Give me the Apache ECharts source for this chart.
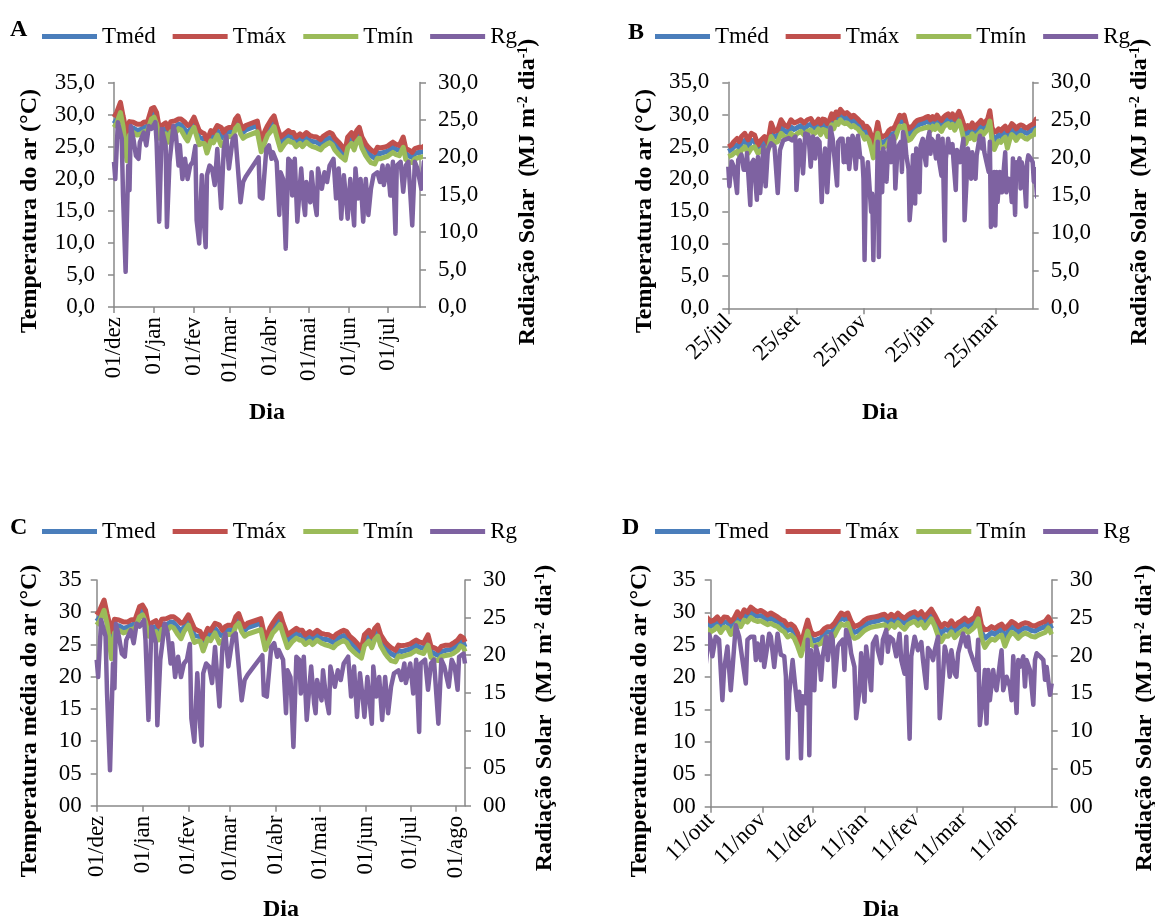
<!DOCTYPE html>
<html>
<head>
<meta charset="utf-8">
<script src="https://cdn.jsdelivr.net/npm/echarts@6/dist/echarts.min.js"></script>
<style>
  html, body { margin: 0; padding: 0; background: #ffffff; }
  #chart { width: 1155px; height: 920px; }
</style>
</head>
<body>
<div id="chart"></div>
<script>
// ---------- Período 1: dia 0 = 01/dez ----------
const p1TempDays = [0,2,5,7,10,12,15,18,21,23,26,29,31,33,35,37,40,42,44,47,50,52,55,57,59,62,63,66,68,70,72,75,77,80,83,85,87,89,92,94,96,98,100,102,111,114,117,119,122,124,126,129,132,135,137,139,141,144,146,149,152,154,157,160,162,165,167,169,171,174,176,179,181,184,186,188,190,192,195,197,199,202,204,206,209,212,214,216,218,221,224,226,229,231,233,236,239,241,244,246,248,249];
const p1Tmax = [29.6,30.3,31.9,29.8,27.0,28.9,28.8,28.5,28.5,28.8,28.9,30.9,31.1,30.3,28.0,28.3,28.7,27.8,28.9,29.0,29.3,29.3,28.8,28.3,28.5,29.6,29.8,27.5,27.2,27.0,25.9,27.5,27.2,28.3,28.0,27.2,27.8,28.0,28.0,29.3,29.8,28.5,27.8,28.3,29.0,25.9,27.5,28.3,29.3,29.8,28.3,26.5,27.0,27.5,27.2,27.2,26.5,27.0,26.6,27.2,26.7,26.6,26.5,26.1,26.6,27.0,27.2,27.0,26.3,25.7,25.2,24.4,26.5,27.2,26.2,27.5,28.0,26.5,25.4,24.9,24.5,24.1,24.9,24.8,24.9,25.1,25.4,25.7,25.4,25.2,26.5,24.7,24.4,24.1,24.7,24.9,24.9,25.2,25.7,26.3,26.0,25.4];
const p1Tmed = [28.6,29.2,31.0,29.0,25.0,27.8,27.9,27.5,27.7,28.0,28.2,30.1,30.4,29.3,27.1,27.5,27.8,26.7,28.1,28.0,28.5,28.4,27.6,27.0,27.7,28.8,29.0,26.4,26.3,26.2,25.0,26.7,26.4,27.5,26.6,26.3,27.0,27.3,27.3,28.5,29.1,27.8,27.2,27.6,28.3,25.0,26.6,27.5,28.4,28.9,27.5,25.5,26.2,26.8,26.5,26.4,25.8,26.3,25.8,26.5,25.9,25.8,25.7,25.3,25.8,26.2,26.4,26.1,25.5,24.8,24.3,23.7,25.6,26.4,25.4,26.7,27.2,25.7,24.5,24.0,23.6,23.2,24.1,23.9,24.1,24.3,24.6,24.9,24.6,24.4,25.7,23.9,23.5,23.3,23.9,24.1,24.2,24.4,24.9,25.5,25.2,24.6];
const p1Tmin = [28.0,28.6,30.3,28.2,22.8,26.8,27.2,26.8,27.0,27.3,27.5,29.3,29.6,28.5,26.3,26.8,27.0,25.7,27.3,27.0,27.8,27.6,26.5,25.9,27.0,28.0,28.3,25.3,25.5,25.5,24.0,25.9,25.6,26.8,25.2,25.5,26.3,26.6,26.5,27.8,28.3,27.0,26.3,26.6,27.3,24.2,25.8,26.8,27.5,28.1,26.6,24.5,25.4,26.0,25.7,25.6,25.0,25.5,25.0,25.7,25.2,25.0,24.8,24.5,25.0,25.4,25.6,25.3,24.5,23.8,23.4,22.9,24.8,25.5,24.5,25.8,26.3,24.8,23.6,23.0,22.5,22.3,23.2,23.1,23.3,23.5,23.8,24.1,23.8,23.6,24.9,23.0,22.6,22.5,23.1,23.3,23.4,23.6,24.1,24.8,24.5,23.9];
const p1RgDays = [0,1,3,6,7,9,11,12,13,15,17,19,20,23,25,27,29,32,33,35,37,40,41,43,46,48,50,51,53,55,57,59,61,63,64,66,68,70,71,72,74,76,78,80,83,85,87,89,92,94,96,98,100,102,112,113,115,118,120,122,123,126,128,129,131,133,135,137,138,140,142,144,145,147,148,149,152,153,155,157,158,161,163,165,167,170,172,174,176,178,180,181,183,186,187,189,191,193,195,197,199,201,204,206,208,209,212,214,216,218,219,222,224,226,228,231,233,235,238,240,242,244,245,248,249];
const p1Rg = [19.4,17.1,24.7,22.5,14.9,4.7,18.9,15.6,24.2,22.5,20.2,19.8,22.0,23.3,21.6,24.2,23.8,24.7,22.0,11.4,23.8,21.6,10.7,19.4,24.2,22.9,18.9,21.6,17.1,19.8,17.1,18.9,19.4,21.5,11.6,8.5,17.6,10.5,8.0,17.6,18.9,18.5,16.3,21.1,13.2,21.1,22.9,18.5,22.5,22.9,18.5,14.0,16.7,17.4,20.0,14.7,14.5,21.1,21.6,19.8,20.7,19.4,12.3,18.0,17.1,7.8,19.8,19.4,14.9,19.8,11.4,16.3,18.5,13.6,12.3,16.7,14.0,18.0,14.5,12.3,18.5,15.8,18.0,16.7,18.9,19.8,14.5,18.5,11.8,17.6,14.0,11.8,17.1,10.9,18.5,14.5,17.1,11.4,17.1,12.3,15.8,17.6,18.0,16.7,18.9,16.3,18.9,14.9,19.4,9.8,18.9,19.4,15.4,18.9,19.4,10.9,19.4,18.5,15.8,19.4,18.5,15.4,19.8,20.2,18.9];
const p1TickDays = [0,31,62,90,121,151,182,212,243];
const p1TickLabels = ['01/dez','01/jan','01/fev','01/mar','01/abr','01/mai','01/jun','01/jul','01/ago'];

// ---------- Período 2: dia 0 = 25/jul ----------
const p2TempDays = [0,3,5,8,10,12,15,18,21,24,27,30,33,36,39,42,45,48,51,54,57,60,63,66,69,72,75,78,80,82,84,86,88,90,92,94,96,98,100,102,104,106,108,110,112,114,116,118,120,122,124,126,128,130,132,134,136,138,140,142,144,146,148,150,152,154,156,158,160,162,164,166,168,170,172,174,176,178,180,182,184,186,188,190,192,194,196,198,200,202,204,206,208,210,212,214,216,218,220,222,224,226,228,230,232,234,236,238,240,242,244,246,248,250,252,254,256,258,260,262,264,266,268,270,272,274,276,278,280,282];
const p2Tmax = [25.0,25.3,25.8,26.3,25.8,26.6,27.1,26.1,27.1,26.8,25.3,26.1,26.6,25.6,28.7,27.4,27.6,29.2,28.4,28.1,29.2,28.7,28.9,29.2,28.7,29.2,29.4,28.6,28.8,29.3,28.6,29.3,29.2,28.6,29.1,30.1,29.3,30.4,30.0,30.8,30.4,30.1,30.3,30.0,29.6,29.9,29.6,29.3,28.9,28.7,28.0,28.2,27.8,26.8,25.0,27.0,28.8,27.0,26.5,26.7,26.9,27.5,27.8,27.8,28.3,29.1,29.9,29.6,29.9,28.6,27.8,28.0,28.3,28.8,29.1,29.2,29.3,29.4,29.6,29.7,29.2,29.7,29.3,29.9,29.4,29.1,29.6,29.9,30.1,29.6,30.1,29.3,29.9,30.5,29.6,28.6,27.8,28.3,28.0,28.7,27.9,28.4,28.7,29.1,28.6,28.9,29.3,30.6,28.0,27.3,27.4,27.8,27.5,27.9,28.2,27.5,28.0,28.6,28.3,27.8,28.2,28.4,28.3,28.0,27.9,28.2,28.4,28.6,29.3,28.3];
const p2Tmed = [24.3,24.6,25.0,25.3,24.8,25.6,26.0,25.0,26.0,25.9,24.6,25.3,25.7,25.0,27.6,26.5,26.7,28.2,27.5,27.2,28.1,27.7,28.0,28.3,27.7,28.3,28.5,27.9,28.1,28.6,27.8,28.5,28.5,27.7,28.4,29.3,28.6,29.6,29.3,30.0,29.6,29.4,29.5,29.2,28.9,29.1,28.8,28.6,28.1,27.9,27.2,27.4,26.9,25.8,24.2,26.1,28.0,26.0,25.6,25.8,26.0,26.7,27.0,26.9,27.4,28.3,29.1,28.9,29.1,27.6,26.9,27.1,27.5,28.0,28.3,28.5,28.6,28.7,28.9,29.0,28.4,29.0,28.6,29.2,28.7,28.3,28.9,29.2,29.4,28.9,29.4,28.5,29.2,29.8,28.8,27.5,26.7,27.4,27.2,27.9,27.0,27.6,27.9,28.3,27.8,28.2,28.6,29.8,27.0,26.0,26.4,26.9,26.6,27.1,27.4,26.2,27.1,27.8,27.5,26.9,27.4,27.6,27.5,27.2,27.1,27.4,27.6,27.8,28.5,27.5];
const p2Tmin = [23.5,23.7,24.0,24.3,23.7,24.5,25.0,24.0,24.8,25.0,24.0,24.5,24.8,24.3,26.6,25.6,25.8,27.1,26.6,26.3,27.1,26.6,27.1,27.4,26.8,27.4,27.6,27.0,27.3,27.8,26.9,27.7,27.6,26.6,27.5,28.4,27.8,28.8,28.5,29.2,28.8,28.6,28.7,28.4,28.1,28.3,28.0,27.8,27.3,27.0,26.2,26.5,26.0,24.8,23.3,25.2,27.1,25.0,24.8,25.0,25.2,25.9,26.2,25.9,26.4,27.4,28.2,28.0,28.3,26.6,26.0,26.2,26.7,27.2,27.5,27.7,27.8,27.9,28.0,28.1,27.5,28.2,27.7,28.4,27.8,27.4,28.1,28.4,28.6,28.0,28.5,27.6,28.3,29.0,27.9,26.4,25.5,26.4,26.3,27.0,26.1,26.7,27.0,27.4,26.9,27.3,27.8,29.0,26.0,24.6,25.4,25.9,25.7,26.2,26.5,24.8,26.1,26.9,26.6,26.0,26.5,26.8,26.6,26.3,26.2,26.5,26.7,26.9,27.6,26.6];
const p2RgDays = [0,1,3,5,8,9,12,14,16,17,20,21,23,26,27,29,32,34,36,39,42,45,47,50,55,58,61,62,65,67,68,70,73,75,77,78,79,81,83,85,86,88,90,91,93,95,97,99,100,102,104,105,106,108,109,110,113,114,116,118,120,122,123,124,125,127,128,130,131,132,133,135,136,137,138,140,141,143,144,145,147,148,150,151,152,154,155,157,158,159,161,162,164,165,167,168,170,171,172,174,175,177,178,180,181,183,184,185,187,189,191,192,194,195,197,198,200,201,202,204,205,207,208,209,211,212,214,215,217,218,220,221,222,224,225,226,228,229,231,232,233,235,237,238,239,241,242,243,244,245,247,248,249,251,252,253,255,257,258,259,261,262,263,265,266,267,269,271,272,273,275,277,278,279,281,282];
const p2Rg = [18.8,16.2,19.5,18.8,15.3,19.7,20.4,18.4,18.4,20.6,13.7,19.2,19.7,14.4,20.1,15.3,21.5,16.2,21.0,21.9,21.5,15.3,21.0,22.3,22.6,22.3,22.8,15.7,22.3,20.1,17.9,23.2,23.0,18.8,22.8,22.1,19.9,22.5,22.1,14.1,18.1,21.2,15.4,18.1,24.0,22.5,19.4,16.3,22.1,22.5,22.5,19.4,21.6,19.4,22.5,18.5,22.9,22.5,18.5,22.9,20.1,19.9,17.2,6.4,15.0,19.4,17.2,12.8,15.2,6.4,14.6,13.7,22.1,6.8,20.7,15.4,21.2,19.4,16.8,19.9,22.5,19.4,22.9,22.1,15.9,21.2,21.6,22.1,18.1,23.4,22.1,20.3,18.5,11.7,15.4,20.3,13.9,21.2,19.4,15.4,21.6,22.5,20.7,19.0,22.1,23.4,20.5,22.5,22.1,19.9,22.9,19.4,17.6,22.5,9.0,19.9,22.5,21.6,20.7,21.8,19.4,15.7,21.0,20.7,19.4,20.7,22.5,11.7,17.6,21.2,19.4,17.2,20.7,17.6,17.2,20.3,22.1,22.9,21.2,22.5,20.7,19.4,18.1,22.1,10.8,15.0,18.1,11.0,18.1,14.1,18.1,16.3,15.4,19.0,20.7,15.4,17.2,15.9,14.1,19.9,12.4,19.4,18.5,19.9,15.9,19.4,18.1,13.5,19.4,20.3,19.9,19.4,16.8,18.5,14.8,16.3];
const p2TickDaysB = [0,62,123,184,243];
const p2TickLabelsB = ['25/jul','25/set','25/nov','25/jan','25/mar'];
const p2TickDaysD = [78,109,139,170,201,229,260];
const p2TickLabelsD = ['11/out','11/nov','11/dez','11/jan','11/fev','11/mar','11/abr'];

// ---------- estilos ----------
const FONT = 'Liberation Serif, Times New Roman, serif';
const AXIS_GRAY = '#898989';
const COLORS = { tmed: '#4a7ebb', tmax: '#c0504d', tmin: '#9bbb59', rg: '#7e62a1' };
const TEMP_W = 5;
const RG_W = 4.5;

const fmtComma = v => v.toFixed(1).replace('.', ',');
const fmtTwo = v => (v < 10 ? '0' : '') + v;

const pairs = (days, vals) => days.map((d, i) => [d, vals[i]]);

const option = {
  animation: false,
  backgroundColor: '#ffffff',
  grid: [], xAxis: [], yAxis: [], series: [], legend: [], graphic: []
};

function addPanel(cfg) {
  const gi = option.grid.length;
  option.grid.push({ left: cfg.grid[0], top: cfg.grid[1], width: cfg.grid[2], height: cfg.grid[3], containLabel: false });
  const xi = option.xAxis.length;
  option.xAxis.push({
    type: 'value', gridIndex: gi, min: cfg.xMin, max: cfg.xMax,
    axisLine: { show: true, lineStyle: { color: AXIS_GRAY, width: 1.5 } },
    axisTick: { show: true, customValues: cfg.ticks, length: 6, lineStyle: { color: AXIS_GRAY, width: 1.5 } },
    axisLabel: {
      customValues: cfg.ticks, rotate: cfg.rotate, margin: cfg.labelMargin,
      formatter: v => cfg.tickLabels[cfg.ticks.indexOf(v)] || '',
      fontFamily: FONT, fontSize: 23, color: '#000'
    },
    splitLine: { show: false }
  });
  const yl = option.yAxis.length;
  option.yAxis.push({
    type: 'value', gridIndex: gi, min: 0, max: 35, interval: 5, position: 'left',
    axisLine: { show: true, lineStyle: { color: AXIS_GRAY, width: 1.5 } },
    axisTick: { show: true, length: 6, lineStyle: { color: AXIS_GRAY, width: 1.5 } },
    axisLabel: { formatter: cfg.yFmt, fontFamily: FONT, fontSize: 23, color: '#000', margin: cfg.leftMargin },
    splitLine: { show: false }
  });
  option.yAxis.push({
    type: 'value', gridIndex: gi, min: 0, max: 30, interval: 5, position: 'right',
    axisLine: { show: true, lineStyle: { color: AXIS_GRAY, width: 1.5 } },
    axisTick: { show: true, length: 6, lineStyle: { color: AXIS_GRAY, width: 1.5 } },
    axisLabel: { formatter: cfg.yFmt, fontFamily: FONT, fontSize: 23, color: '#000', margin: 18 },
    splitLine: { show: false }
  });
  const base = { type: 'line', xAxisIndex: xi, symbol: 'none', showSymbol: false, smooth: false, clip: true };
  const d = cfg.data;
  option.series.push(
    Object.assign({}, base, { name: cfg.names[0], yAxisIndex: yl, data: pairs(d.tDays, d.tmed), lineStyle: { color: COLORS.tmed, width: TEMP_W, join: 'round' }, itemStyle: { color: COLORS.tmed } }),
    Object.assign({}, base, { name: cfg.names[1], yAxisIndex: yl, data: pairs(d.tDays, d.tmax), lineStyle: { color: COLORS.tmax, width: TEMP_W, join: 'round' }, itemStyle: { color: COLORS.tmax } }),
    Object.assign({}, base, { name: cfg.names[2], yAxisIndex: yl, data: pairs(d.tDays, d.tmin), lineStyle: { color: COLORS.tmin, width: TEMP_W, join: 'round' }, itemStyle: { color: COLORS.tmin } }),
    Object.assign({}, base, { name: cfg.names[3], yAxisIndex: yl + 1, data: pairs(d.rDays, d.rg), lineStyle: { color: COLORS.rg, width: RG_W, join: 'round' }, itemStyle: { color: COLORS.rg } })
  );
  option.legend.push({
    data: cfg.names, left: cfg.legend[0], top: cfg.legend[1], width: 560, orient: 'horizontal',
    icon: 'rect', itemWidth: 55, itemHeight: 5, itemGap: 17, selectedMode: false,
    textStyle: { fontFamily: FONT, fontSize: 23, color: '#000', padding: [0, 0, 0, 0] }
  });
  // letra do painel e títulos dos eixos
  option.graphic.push(
    { type: 'text', x: cfg.letter[0], y: cfg.letter[1], style: { text: cfg.letterText, font: 'bold 24px ' + FONT, fill: '#000', textAlign: 'left', textVerticalAlign: 'middle' } },
    { type: 'text', x: cfg.dia[0], y: cfg.dia[1], style: { text: 'Dia', font: 'bold 24px ' + FONT, fill: '#000', textAlign: 'center', textVerticalAlign: 'middle' } },
    { type: 'text', x: cfg.leftTitle[0], y: cfg.leftTitle[1], rotation: Math.PI / 2, style: { text: cfg.leftTitleText, font: 'bold 24px ' + FONT, fill: '#000', textAlign: 'center', textVerticalAlign: 'middle' } },
    { type: 'text', x: cfg.rightTitle[0], y: cfg.rightTitle[1], rotation: Math.PI / 2,
      style: {
        text: 'Radiação Solar  (MJ m{sup|-2} dia{sup|-1})', fontFamily: FONT, fontSize: 24, fontWeight: 'bold', fill: '#000',
        textAlign: 'center', textVerticalAlign: 'middle',
        rich: { sup: { fontFamily: FONT, fontSize: 14, fontWeight: 'bold', fill: '#000', verticalAlign: 'top' } }
      } }
  );
}

const data1 = { tDays: p1TempDays, tmax: p1Tmax, tmed: p1Tmed, tmin: p1Tmin, rDays: p1RgDays, rg: p1Rg };
const data2 = { tDays: p2TempDays, tmax: p2Tmax, tmed: p2Tmed, tmin: p2Tmin, rDays: p2RgDays, rg: p2Rg };

addPanel({
  grid: [114, 82.5, 306, 224.5], xMin: 0, xMax: 237, ticks: p1TickDays.slice(0, 8), tickLabels: p1TickLabels,
  rotate: 90, labelMargin: 10, leftMargin: 19, yFmt: fmtComma, data: data1,
  names: ['Tméd', 'Tmáx', 'Tmín', 'Rg'], legend: [37, 20],
  letter: [10, 30], letterText: 'A', dia: [267, 413],
  leftTitle: [30, 211], leftTitleText: 'Temperatura do ar (°C)', rightTitle: [528, 192]
});
addPanel({
  grid: [728.3, 82.3, 304.4, 226], xMin: 0, xMax: 277, ticks: p2TickDaysB, tickLabels: p2TickLabelsB,
  rotate: 45, labelMargin: 10, leftMargin: 19, yFmt: fmtComma, data: data2,
  names: ['Tméd', 'Tmáx', 'Tmín', 'Rg'], legend: [650, 20],
  letter: [628, 33], letterText: 'B', dia: [880, 413],
  leftTitle: [645, 211], leftTitleText: 'Temperatura do ar (°C)', rightTitle: [1140, 192]
});
addPanel({
  grid: [96.7, 580, 368.3, 225.7], xMin: 0, xMax: 249, ticks: p1TickDays, tickLabels: p1TickLabels,
  rotate: 90, labelMargin: 10, leftMargin: 15, yFmt: fmtTwo, data: data1,
  names: ['Tmed', 'Tmáx', 'Tmín', 'Rg'], legend: [37, 515],
  letter: [10, 528], letterText: 'C', dia: [281, 910],
  leftTitle: [30, 721], leftTitleText: 'Temperatura média do ar (°C)', rightTitle: [545, 718]
});
addPanel({
  grid: [710.7, 580, 341, 226.7], xMin: 78, xMax: 282, ticks: p2TickDaysD, tickLabels: p2TickLabelsD,
  rotate: 45, labelMargin: 10, leftMargin: 15, yFmt: fmtTwo, data: data2,
  names: ['Tmed', 'Tmáx', 'Tmín', 'Rg'], legend: [650, 515],
  letter: [622, 528], letterText: 'D', dia: [881, 910],
  leftTitle: [640, 721], leftTitleText: 'Temperatura média do ar (°C)', rightTitle: [1145, 718]
});

const chart = echarts.init(document.getElementById('chart'), null, { renderer: 'canvas' });
chart.setOption(option);
</script>
</body>
</html>
